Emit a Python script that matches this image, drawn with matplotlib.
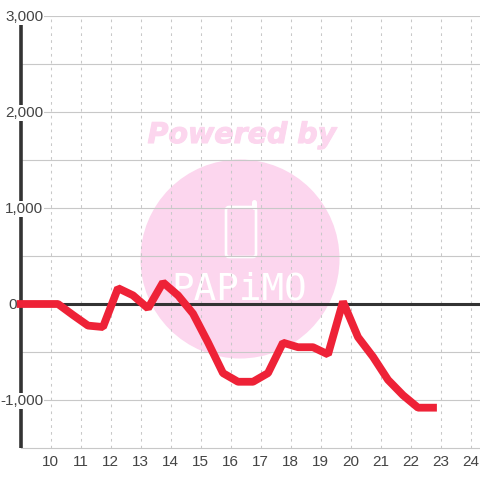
import matplotlib
matplotlib.use("Agg")
import matplotlib.pyplot as plt
from matplotlib.patches import Circle, FancyBboxPatch
import matplotlib.patheffects as pe

hours = [9.0, 9.25, 9.75, 10.25, 10.75, 11.25, 11.75, 12.25, 12.75, 13.25, 13.75, 14.25, 14.75,
         15.25, 15.75, 16.25, 16.75, 17.25, 17.75, 18.25, 18.75, 19.25, 19.75, 20.25, 20.75,
         21.25, 21.75, 22.25, 22.75]
values = [0, 0, 0, 0, -115, -225, -240, 165, 90, -45, 225, 90, -100,
          -400, -720, -810, -810, -720, -403, -450, -450, -525, 25, -345, -550,
          -790, -950, -1080, -1080]
x_ticks = list(range(10, 25))
y_ticks = [-1000, 0, 1000, 2000, 3000]
y_labels = ["-1,000", "0", "1,000", "2,000", "3,000"]
minor_y = [-500, 500, 1500, 2500]

W = 480
fig = plt.figure(figsize=(4.8, 4.8), dpi=100, facecolor="white")
plt.rcParams["font.family"] = "Liberation Sans"

# watermark layer in pixel coordinates
bg = fig.add_axes([0, 0, 1, 1], zorder=0)
bg.set_xlim(0, W); bg.set_ylim(W, 0); bg.axis("off")
pink = "#fcd6ee"
bg.add_patch(Circle((240, 259), 99.5, fc=pink, ec="none"))
bg.text(242, 135, "Powered by", color=pink, fontsize=20.5, fontweight="bold", fontstyle="italic",
        family="DejaVu Sans", ha="center", va="center",
        path_effects=[pe.withStroke(linewidth=0.8, foreground=pink)])
bg.add_patch(FancyBboxPatch((226, 207), 30, 50, boxstyle="round,pad=0,rounding_size=3",
                            fc="none", ec="white", lw=1.9))
bg.plot([253.5, 253.5], [207, 201.5], color="white", lw=3.6, solid_capstyle="round")
bg.text(239.5, 289, "PAPiMO", color="white", fontsize=27, family="DejaVu Sans Mono",
        ha="center", va="center")

# plot area: x 10 -> px 50.5, 30 px per hour; y 0 -> px 304, 96 px per 1000
left, right, top, bottom = 20.5, 480, 16, 448
ax = fig.add_axes([left / W, 1 - bottom / W, (right - left) / W, (bottom - top) / W], zorder=1)
ax.patch.set_alpha(0)
ax.set_xlim(9, 9 + (right - left) / 30)
ax.set_ylim(-1500, 3000)

for s in ax.spines.values():
    s.set_visible(False)
grid = "#c8c8c8"
for v in y_ticks + minor_y:
    ax.axhline(v, color=grid, lw=0.8, zorder=1)
ax.axhline(-1500, color=grid, lw=0.8, zorder=1, clip_on=False)
for h in x_ticks:
    ax.axvline(h, color=grid, lw=0.75, ls=(0, (2.6, 4)), zorder=1)
ax.axhline(0, color="#333333", lw=2.2, zorder=2)
ax.plot([9, 9], [-1500, 2917], color="#333333", lw=2.6, zorder=2, clip_on=False, solid_capstyle="butt")

ax.plot(hours, values, color="#ee2237", lw=5.6, solid_joinstyle="bevel", solid_capstyle="projecting",
        zorder=3, clip_on=False)

ax.set_xticks(x_ticks)
ax.set_yticks([])
ax.tick_params(axis="x", length=0, pad=5, labelsize=11, labelcolor="#444444")
for v, lab in zip(y_ticks, y_labels):
    xpx = 16.5 if v == 0 else 43.5
    ax.annotate(lab, xy=(xpx / W, 1 - (305 - v * 0.096) / W), xycoords="figure fraction", ha="right", va="center",
                fontsize=11, color="#444444", zorder=5,
                bbox=dict(fc="white", ec="none", pad=0.6) if v != 0 else None)

fig.savefig("out.png", dpi=100)
